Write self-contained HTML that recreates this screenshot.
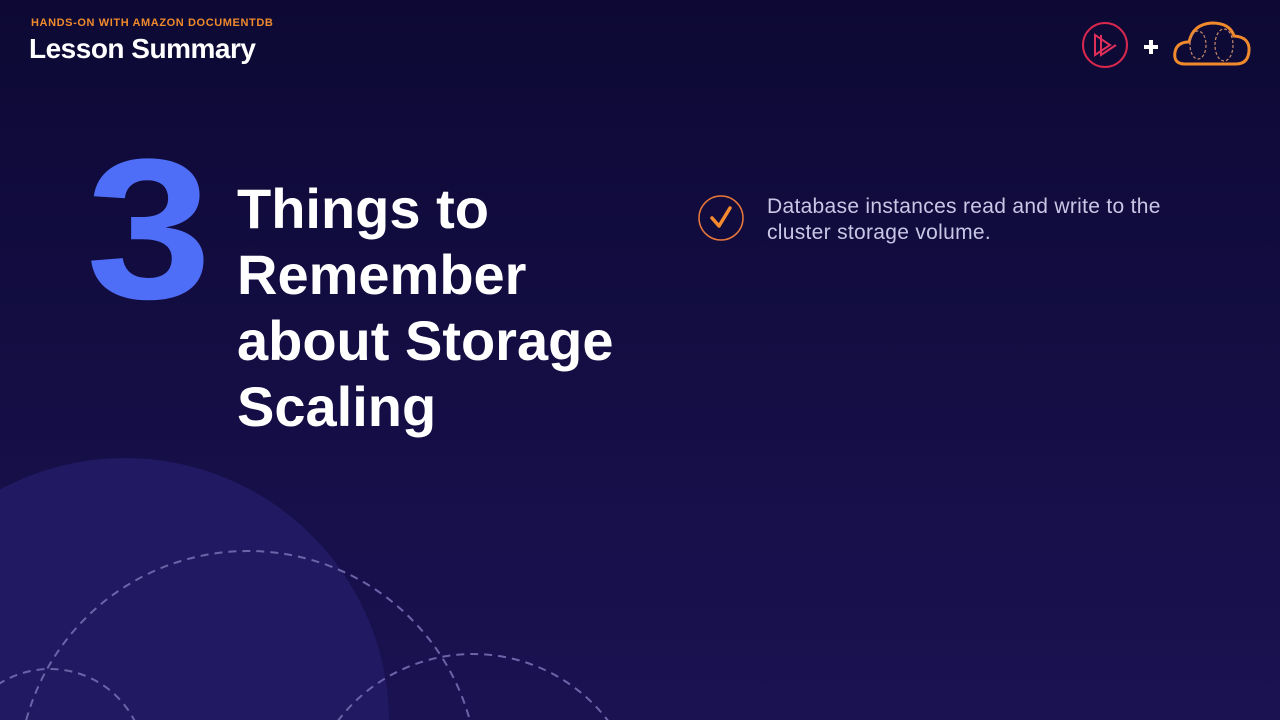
<!DOCTYPE html>
<html><head><meta charset="utf-8"><style>
html,body{margin:0;padding:0;overflow:hidden;width:1280px;height:720px}
body{position:relative;background:linear-gradient(180deg,#0d0934 0%,#130d42 45%,#1b1252 100%);font-family:"Liberation Sans",sans-serif}
.a{position:absolute}
</style></head><body>
<svg class="a" style="left:0;top:0;display:block" width="1280" height="720">
<circle cx="125" cy="722" r="264" fill="#211a62"/>
<g fill="none" stroke="#6c64a8" stroke-width="2" stroke-dasharray="8 6">
<circle cx="248" cy="781" r="230"/>
<circle cx="50" cy="764" r="95"/>
<circle cx="473" cy="824" r="170"/>
</g>
<circle cx="1105" cy="45" r="22" fill="none" stroke="#d8284e" stroke-width="2"/>
<path d="M1095 35 L1095 55 L1110 45 Z M1101 35 L1101 55 L1116 45" fill="none" stroke="#e0305a" stroke-width="2"/>
<path d="M1151 40v14M1144 47h14" stroke="#fff" stroke-width="4"/>
<path d="M1185 64 Q1173 64 1175 52 Q1177 42 1189 42 Q1193 24 1212 23 Q1230 23 1234 36 Q1250 37 1249 51 Q1248 64 1236 64 Z" fill="none" stroke="#f08a2c" stroke-width="3"/>
<g fill="none" stroke="#c78a6a" stroke-width="1.2" stroke-dasharray="3 2">
<ellipse cx="1198" cy="45" rx="8" ry="14"/><ellipse cx="1224" cy="45" rx="9" ry="16"/>
</g>
<circle cx="721" cy="218" r="22" fill="none" stroke="#e8773a" stroke-width="1.5"/>
<path d="M712 218 L719 226 L730 208" fill="none" stroke="#f58a2e" stroke-width="3.5" stroke-linecap="round" stroke-linejoin="round"/>
</svg>
<div class="a" style="left:31px;top:17px;color:#f08a2c;font-size:11px;font-weight:bold;letter-spacing:.6px">HANDS-ON WITH AMAZON DOCUMENTDB</div>
<div class="a" style="left:29px;top:33px;color:#fff;font-size:28px;font-weight:bold;letter-spacing:-.5px">Lesson Summary</div>
<div class="a" style="left:86px;top:130px;color:#4f6ef7;font-size:200px;font-weight:bold;line-height:1;transform:scaleX(1.13);transform-origin:0 0">3</div>
<div class="a" style="left:237px;top:176px;color:#fff;font-size:56px;font-weight:bold;line-height:66px;letter-spacing:0">Things to<br>Remember<br>about Storage<br>Scaling</div>
<div class="a" style="left:767px;top:194px;color:#c9c6e6;font-size:21px;line-height:26px;letter-spacing:.3px">Database instances read and write to the<br>cluster storage volume.</div>
</body></html>
